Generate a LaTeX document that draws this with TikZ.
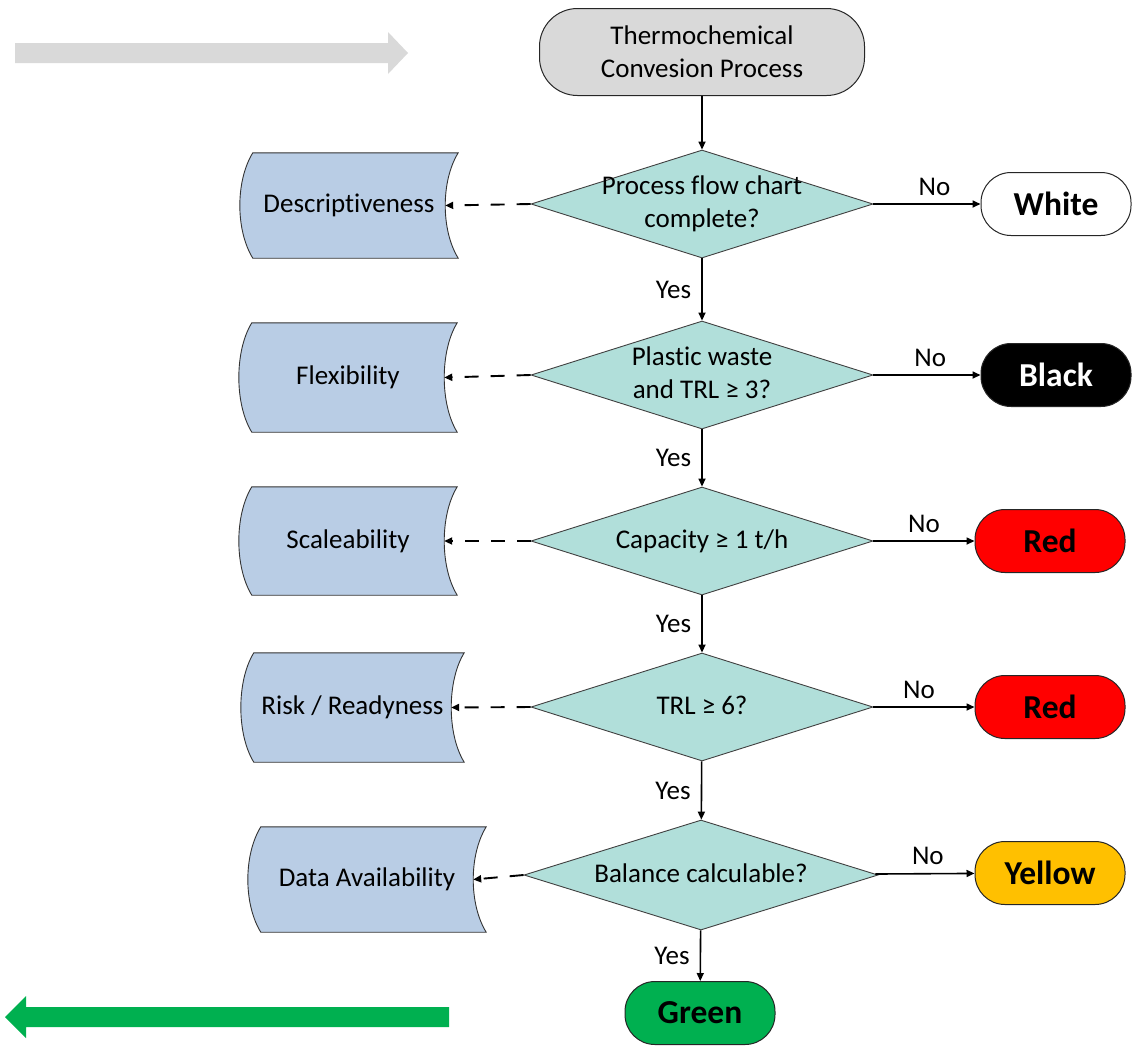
\documentclass[tikz,border=0pt]{standalone}
\usepackage{fontspec}
\setmainfont{Carlito}[Ligatures=NoCommon]
\usetikzlibrary{shapes.geometric,arrows.meta,backgrounds,calc}

\definecolor{qfill}{RGB}{177,223,218}
\definecolor{sfill}{RGB}{185,205,229}
\definecolor{gfill}{RGB}{217,217,217}
\definecolor{rRed}{RGB}{255,0,0}
\definecolor{rYellow}{RGB}{255,192,0}
\definecolor{rGreen}{RGB}{0,176,80}

% text that takes no room, so that the diamond keeps its given size
\newcommand\flatlines[1]{\makebox[0pt]{\raisebox{-6.75pt}[0pt][0pt]{\begin{tabular}{@{}c@{}}#1\end{tabular}}}}

\begin{document}
\begin{tikzpicture}[x=1pt,y=-1pt,
  every node/.style={font=\fontsize{27}{33}\selectfont},
  startbox/.style={draw=black!85, line width=1pt, fill=gfill, rounded corners=38pt,
    minimum width=325pt, minimum height=87pt, align=center, inner sep=0pt},
  question/.style={diamond, draw=black!75, line width=0.9pt, fill=qfill, inner sep=0pt,
    minimum width=342pt, minimum height=108pt},
  verdict/.style={draw=black!85, line width=1pt, rounded corners=30pt,
    minimum width=150pt, minimum height=63pt, inner sep=0pt,
    font=\fontsize{33.5}{40}\selectfont\bfseries},
  store/.style={inner sep=0pt},
  flow/.style={line width=1.6pt, -{Triangle[length=8pt,width=7pt]}},
  aside/.style={flow, line width=1.9pt, dash pattern=on 14pt off 12pt},
  tag/.style={inner sep=3pt}]

\useasboundingbox (0,0) rectangle (1134,1045);

% direction arrows
\fill[gfill] (15,43) -- (388,43) -- (388,32) -- (408,53) -- (388,74) -- (388,63) -- (15,63) -- cycle;
\fill[rGreen] (449,1007) -- (26,1007) -- (26,996) -- (5,1017) -- (26,1038) -- (26,1027) -- (449,1027) -- cycle;

% start
\node[startbox] (start) at (702,52) {Thermochemical\\Convesion Process};

% decisions
\node[question] (q1) at (702,204) {\flatlines{Process flow chart\\complete?}};
\node[question] (q2) at (702,375) {\flatlines{Plastic waste\\and TRL ≥ 3?}};
\node[question] (q3) at (702,541) {\flatlines{Capacity ≥ 1 t/h}};
\node[question] (q4) at (702,707) {\flatlines{TRL ≥ 6?}};
\node[question, minimum width=354pt, minimum height=110pt] (q5) at (701,875) {\flatlines{Balance calculable?}};

% verdicts
\node[verdict, fill=white] (v1) at (1056,204) {White};
\node[verdict, fill=black, text=white] (v2) at (1056,375) {Black};
\node[verdict, fill=rRed] (v3) at (1050,541) {Red};
\node[verdict, fill=rRed] (v4) at (1050,707) {Red};
\node[verdict, fill=rYellow] (v5) at (1050,873) {Yellow};
\node[verdict, fill=rGreen] (v6) at (700,1013) {Green};

% criteria
\node[store, minimum width=218pt, minimum height=105pt] (s1) at (349,205.5) {Descriptiveness};
\node[store, minimum width=218pt, minimum height=109pt] (s2) at (348,377.5) {Flexibility};
\node[store, minimum width=218pt, minimum height=108pt] (s3) at (348,541) {Scaleability};
\node[store, minimum width=223pt, minimum height=109pt] (s4) at (352.5,707.5) {Risk / Readyness};
\node[store, minimum width=238pt, minimum height=105pt] (s5) at (367,879.5) {Data Availability};

% criteria outlines: bulged left side, hollow right side
\begin{scope}[on background layer]
\foreach \n in {s1,s2,s3,s4,s5}{
  \draw[draw=black!80, line width=0.9pt, fill=sfill]
    ([xshift=13pt]\n.north west)
      .. controls ([xshift=-4.3pt,yshift=-28pt]\n.north west)
             and ([xshift=-4.3pt,yshift=28pt]\n.south west)
      .. ([xshift=13pt]\n.south west)
    -- (\n.south east)
      .. controls ([xshift=-17.3pt,yshift=28pt]\n.south east)
             and ([xshift=-17.3pt,yshift=-28pt]\n.north east)
      .. (\n.north east)
    -- cycle;
  \coordinate (\n in) at ([xshift=-13pt]\n.east);
}
\end{scope}

% main flow
\draw[flow] (start) -- (q1);
\foreach \a/\b in {q1/q2,q2/q3,q3/q4,q4/q5,q5/v6}
  \draw[flow] (\a) -- node[tag, left=7pt] {Yes} (\b);

% rejections
\foreach \a/\b/\p in {q1/v1/0.57,q2/v2/0.53,q3/v3/0.5,q4/v4/0.45,q5/v5/0.53}
  \draw[flow] (\a) -- node[tag, above=5pt, pos=\p] {No} (\b);

% criteria links
\foreach \a/\b in {q1/s1,q2/s2,q3/s3,q4/s4,q5/s5}
  \draw[aside] (\a.west) -- (\b in);

\end{tikzpicture}
\end{document}
